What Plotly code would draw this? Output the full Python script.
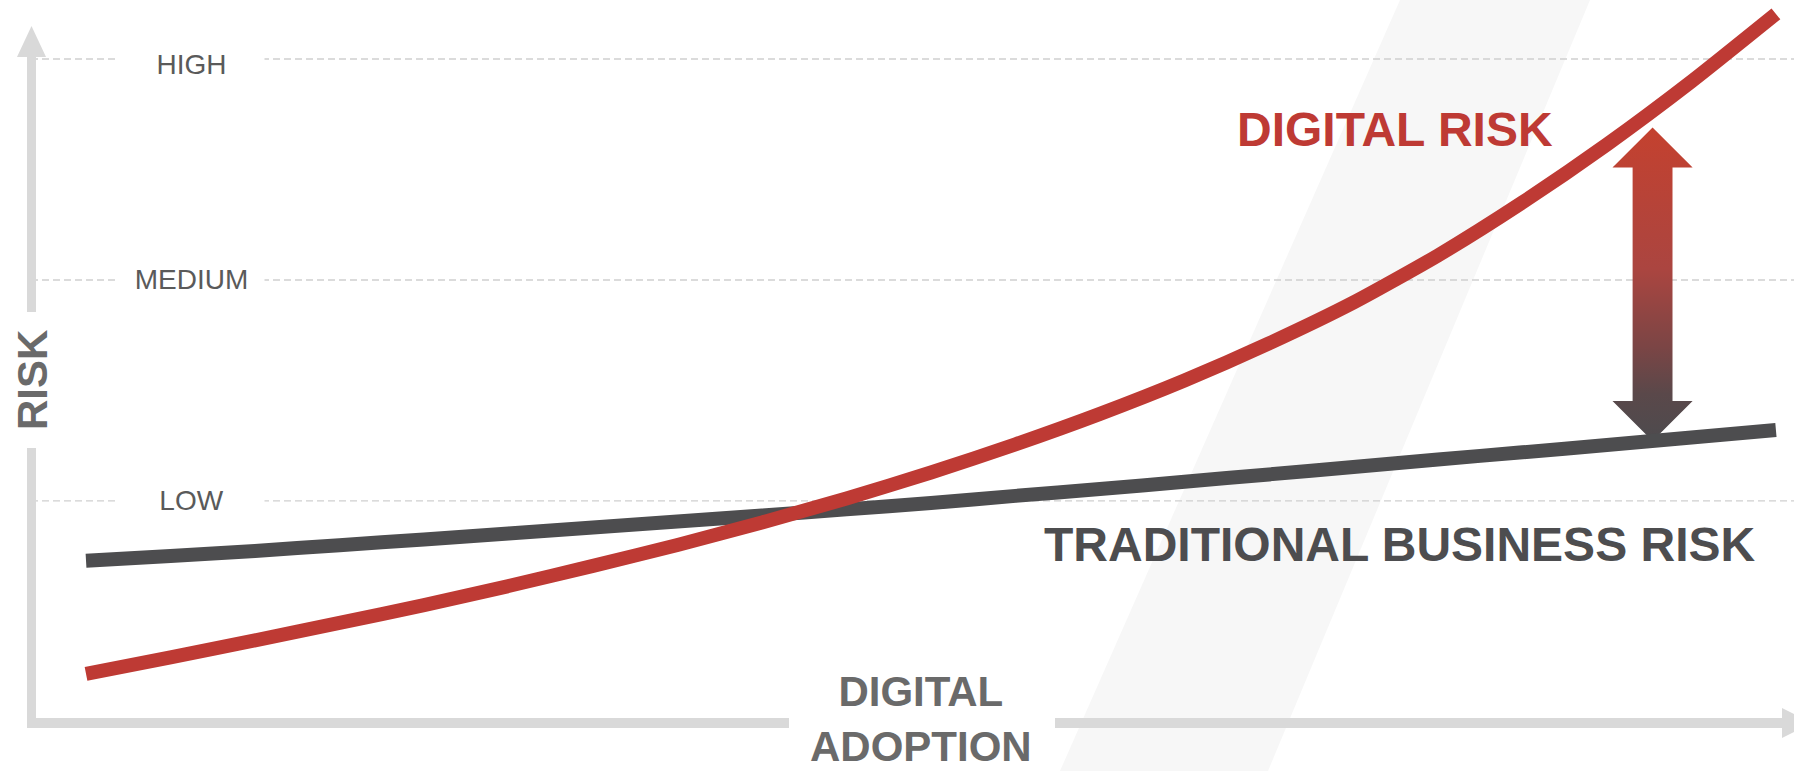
import numpy as np
import plotly.graph_objects as go

W, H = 1794, 771

# ---------------- data ----------------
adoption = [0, 5, 10, 15, 20, 25, 30, 35, 40, 45, 50, 55, 60, 65, 70, 75, 80, 85, 90, 95, 100]
digital_risk = [0.217, 0.292, 0.369, 0.448, 0.529, 0.615, 0.706, 0.801, 0.903, 1.011, 1.129,
                1.256, 1.394, 1.545, 1.713, 1.898, 2.111, 2.351, 2.613, 2.898, 3.204]
traditional_risk = [0.729, 0.751, 0.774, 0.800, 0.826, 0.853, 0.880, 0.907, 0.934, 0.962, 0.991,
                    1.023, 1.054, 1.087, 1.120, 1.154, 1.188, 1.220, 1.253, 1.287, 1.321]
risk_levels = [1, 2, 3]
risk_labels = ["LOW", "MEDIUM", "HIGH"]
arrow_at = 92.7

# ---------------- style ----------------
RED = "#BE3A34"
DARK = "#4D4D4F"
AXIS = "#D9D9D9"
LABEL = "#6A6A6A"
FONT = "Liberation Sans, Arial, sans-serif"
X_RANGE = [-5.09, 101.07]
Y_RANGE = [-0.222, 3.267]


def px(x):
    return x / W


def py(y):
    return 1 - y / H


fig = go.Figure()

# double-headed gradient arrow between the two series
y_bot = float(np.interp(arrow_at, adoption, traditional_risk))
y_top = float(np.interp(arrow_at, adoption, digital_risk)) - 0.077
hw_shaft, hw_head, head_h = 1.18, 2.37, 0.181
ax = [arrow_at, arrow_at + hw_head, arrow_at + hw_shaft, arrow_at + hw_shaft, arrow_at + hw_head,
      arrow_at, arrow_at - hw_head, arrow_at - hw_shaft, arrow_at - hw_shaft, arrow_at - hw_head, arrow_at]
ay = [y_top, y_top - head_h, y_top - head_h, y_bot + head_h, y_bot + head_h,
      y_bot, y_bot + head_h, y_bot + head_h, y_top - head_h, y_top - head_h, y_top]
fig.add_trace(go.Scatter(
    x=ax, y=ay, mode="lines", fill="toself",
    line=dict(width=0, color="rgba(0,0,0,0)"),
    fillgradient=dict(type="vertical",
                      colorscale=[[0, "#4D4B4E"], [0.15, "#5A484A"], [0.3, "#7B4545"],
                                  [0.55, "#AB4540"], [1, "#C4412F"]]),
    hoverinfo="skip", showlegend=False))

fig.add_trace(go.Scatter(
    x=adoption, y=traditional_risk, mode="lines",
    line=dict(color=DARK, width=14, shape="spline", smoothing=0.6),
    hoverinfo="skip", showlegend=False))

fig.add_trace(go.Scatter(
    x=adoption, y=digital_risk, mode="lines",
    line=dict(color=RED, width=14, shape="spline", smoothing=0.6),
    hoverinfo="skip", showlegend=False))

shapes = []
# faint diagonal background band
shapes.append(dict(type="path", xref="paper", yref="paper", layer="below",
                   path=f"M {px(1400)},{py(0)} L {px(1590)},{py(0)} L {px(1268)},{py(771)} L {px(1060)},{py(771)} Z",
                   fillcolor="#F7F7F7", line=dict(width=0)))
# dashed gridlines
for lv in risk_levels:
    shapes.append(dict(type="line", xref="paper", yref="y", layer="below",
                       x0=px(31), x1=1, y0=lv, y1=lv,
                       line=dict(color="#CFCFCF", width=1.3, dash="7px,4px")))
# y axis bar (with gap for title) and arrow head
shapes.append(dict(type="rect", xref="paper", yref="paper", x0=px(27), x1=px(36),
                   y0=py(312), y1=py(56), fillcolor=AXIS, line=dict(width=0)))
shapes.append(dict(type="rect", xref="paper", yref="paper", x0=px(27), x1=px(36),
                   y0=py(728), y1=py(448), fillcolor=AXIS, line=dict(width=0)))
shapes.append(dict(type="path", xref="paper", yref="paper",
                   path=f"M {px(31.5)},{py(26)} L {px(46)},{py(57)} L {px(17)},{py(57)} Z",
                   fillcolor=AXIS, line=dict(width=0)))
# x axis bar (with gap for title) and arrow head
shapes.append(dict(type="rect", xref="paper", yref="paper", x0=px(27), x1=px(789),
                   y0=py(728), y1=py(718), fillcolor=AXIS, line=dict(width=0)))
shapes.append(dict(type="rect", xref="paper", yref="paper", x0=px(1055), x1=px(1783),
                   y0=py(728), y1=py(718), fillcolor=AXIS, line=dict(width=0)))
shapes.append(dict(type="path", xref="paper", yref="paper",
                   path=f"M {px(1782)},{py(708)} L {px(1812)},{py(723)} L {px(1782)},{py(738)} Z",
                   fillcolor=AXIS, line=dict(width=0)))

annotations = []
for lv, lab in zip(risk_levels, risk_labels):
    annotations.append(dict(x=6.27, y=lv, xref="x", yref="y", text=lab, showarrow=False,
                            xanchor="center", yanchor="middle", width=145, bgcolor="white",
                            borderpad=0, yshift=-5 if lab == "HIGH" else 0,
                            font=dict(family=FONT, size=28, color="#5A5A5A")))

annotations.append(dict(x=px(32), y=py(380), xref="paper", yref="paper", text="RISK",
                        textangle=-90, showarrow=False, xanchor="center", yanchor="middle",
                        font=dict(family=FONT, size=42, color=LABEL, weight="bold")))
annotations.append(dict(x=px(921), y=py(719), xref="paper", yref="paper",
                        text="DIGITAL<br>ADOPTION", showarrow=False, align="center",
                        xanchor="center", yanchor="middle",
                        font=dict(family=FONT, size=42, color=LABEL, weight="bold")))
annotations.append(dict(x=77.43, y=2.679, xref="x", yref="y", text="DIGITAL RISK",
                        showarrow=False, xanchor="center", yanchor="middle",
                        font=dict(family=FONT, size=48, color=RED, weight="bold")))
annotations.append(dict(x=77.75, y=0.801, xref="x", yref="y", text="TRADITIONAL BUSINESS RISK",
                        showarrow=False, xanchor="center", yanchor="middle",
                        font=dict(family=FONT, size=48, color=DARK, weight="bold")))

fig.update_layout(
    width=W, height=H, autosize=False,
    margin=dict(l=0, r=0, t=0, b=0, pad=0),
    paper_bgcolor="white", plot_bgcolor="white",
    xaxis=dict(range=X_RANGE, visible=False, fixedrange=True),
    yaxis=dict(range=Y_RANGE, visible=False, fixedrange=True),
    shapes=shapes, annotations=annotations,
    showlegend=False,
)

fig.write_html("out.html", config={"displayModeBar": False})
